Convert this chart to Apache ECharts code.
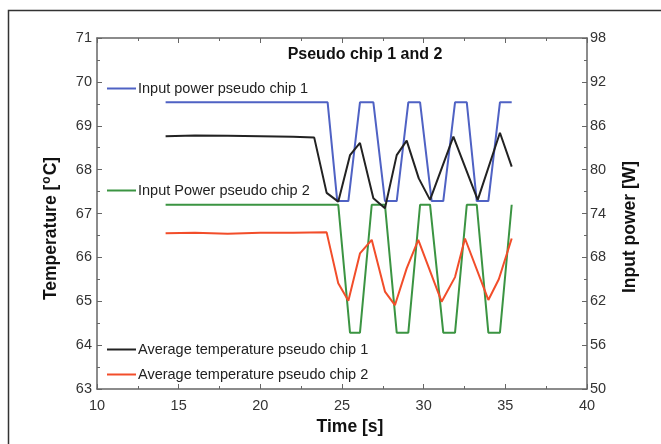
<!DOCTYPE html>
<html>
<head>
<meta charset="utf-8">
<script src="https://cdn.jsdelivr.net/npm/echarts@6/dist/echarts.min.js"></script>
<style>
html, body { margin: 0; padding: 0; background: #fff; }
#chart { width: 661px; height: 444px; }
</style>
</head>
<body>
<div id="chart"></div>
<script>
// region data

// input power pseudo chip 1 (right axis, W)
const power1Time = [14.2, 24.12, 24.71, 25.39, 26.1, 26.92, 27.63, 28.35, 29.06, 29.78, 30.49, 31.2, 31.92, 32.64, 33.25, 33.96, 34.67, 35.39]
const power1Value = [89.2, 89.2, 75.7, 75.7, 89.2, 89.2, 75.7, 75.7, 89.2, 89.2, 75.7, 75.7, 89.2, 89.2, 75.7, 75.7, 89.2, 89.2]

// input power pseudo chip 2 (right axis, W)
const power2Time = [14.2, 24.77, 25.49, 26.1, 26.82, 27.63, 28.35, 29.06, 29.78, 30.39, 31.2, 31.92, 32.64, 33.25, 33.96, 34.67, 35.39]
const power2Value = [75.2, 75.2, 57.7, 57.7, 75.2, 75.2, 57.7, 57.7, 75.2, 75.2, 57.7, 57.7, 75.2, 75.2, 57.7, 57.7, 75.2]

// average temperature pseudo chip 1 (left axis, °C)
const temp1Time = [14.2, 16, 18, 20, 22, 23.3, 24.06, 24.77, 25.49, 26.1, 26.92, 27.63, 28.35, 28.96, 29.7, 30.39, 31.82, 33.31, 34.67, 35.39]
const temp1Value = [68.76, 68.78, 68.77, 68.76, 68.75, 68.73, 67.47, 67.27, 68.33, 68.61, 67.35, 67.12, 68.33, 68.66, 67.8, 67.31, 68.75, 67.31, 68.84, 68.07]

// average temperature pseudo chip 2 (left axis, °C)
const temp2Time = [14.2, 16, 18, 20, 22, 24.06, 24.77, 25.39, 26.1, 26.82, 27.63, 28.24, 28.96, 29.67, 31.1, 31.92, 32.53, 33.96, 34.6, 35.39]
const temp2Value = [66.55, 66.56, 66.54, 66.56, 66.56, 66.57, 65.41, 65.01, 66.09, 66.4, 65.22, 64.91, 65.75, 66.4, 64.99, 65.55, 66.43, 65.03, 65.5, 66.43]

const names = [
  'Input power pseudo chip 1',
  'Input Power pseudo chip 2',
  'Average temperature pseudo chip 1',
  'Average temperature pseudo chip 2'
]

// endregion

// region chart

const FONT = '"Liberation Sans", Arial, sans-serif'

function pairs(t, v) {
  return t.map((x, i) => [x, v[i]])
}

// one legend box per entry, placed like the original annotations
function legendAt(name, top) {
  return {
    data: [name],
    left: 102,
    top: top,
    icon: 'rect',
    itemWidth: 29,
    itemHeight: 2,
    itemGap: 0,
    textStyle: {color: '#222', fontSize: 14.5, fontFamily: FONT, padding: [0, 0, 0, -3]}
  }
}

const tickLabel = {color: '#333', fontSize: 14.5, fontFamily: FONT}
const axisLine = {show: true, lineStyle: {color: '#666', width: 1.5}}
const axisTick = {show: true, inside: true, length: 5, lineStyle: {color: '#666'}}
const minorTick = {show: true, splitNumber: 2, length: 3, lineStyle: {color: '#666'}}

const option = {
  animation: false,
  backgroundColor: '#fff',
  grid: {left: 97, right: 74, top: 38, bottom: 55, containLabel: false},
  title: {
    text: 'Pseudo chip 1 and 2',
    left: 360,
    top: 42,
    textAlign: 'center',
    textStyle: {color: '#111', fontSize: 16, fontWeight: 'bold', fontFamily: FONT}
  },
  legend: [
    legendAt(names[0], 76),
    legendAt(names[1], 178),
    legendAt(names[2], 337),
    legendAt(names[3], 362)
  ],
  xAxis: [
    {
      type: 'value',
      min: 10,
      max: 40,
      interval: 5,
      position: 'bottom',
      name: 'Time [s]',
      nameLocation: 'middle',
      nameGap: 23,
      nameTextStyle: {color: '#111', fontSize: 17.5, fontWeight: 'bold', fontFamily: FONT, padding: [0, 0, 0, 16]},
      axisLine: axisLine,
      axisTick: axisTick,
      minorTick: minorTick,
      axisLabel: Object.assign({margin: 9}, tickLabel),
      splitLine: {show: false}
    },
    {
      type: 'value',
      min: 10,
      max: 40,
      interval: 5,
      position: 'top',
      axisLine: axisLine,
      axisTick: axisTick,
      minorTick: minorTick,
      axisLabel: {show: false},
      splitLine: {show: false}
    }
  ],
  yAxis: [
    {
      type: 'value',
      min: 63,
      max: 71,
      interval: 1,
      position: 'left',
      name: 'Temperature [{sup|o}C]',
      nameLocation: 'middle',
      nameRotate: 90,
      nameGap: 35,
      nameTextStyle: {
        color: '#111', fontSize: 17.5, fontWeight: 'bold', fontFamily: FONT, padding: [0, 30, 0, 0],
        rich: {sup: {fontSize: 12, fontWeight: 'bold', fontFamily: FONT, color: '#111', padding: [0, 1, 9, 1]}}
      },
      axisLine: axisLine,
      axisTick: axisTick,
      minorTick: minorTick,
      axisLabel: Object.assign({margin: 5}, tickLabel),
      splitLine: {show: false}
    },
    {
      type: 'value',
      min: 50,
      max: 98,
      interval: 6,
      position: 'right',
      name: 'Input power [W]',
      nameLocation: 'middle',
      nameRotate: 90,
      nameGap: 34,
      nameTextStyle: {color: '#111', fontSize: 17.5, fontWeight: 'bold', fontFamily: FONT, padding: [0, 27, 0, 0]},
      axisLine: axisLine,
      axisTick: axisTick,
      minorTick: minorTick,
      axisLabel: Object.assign({margin: 3}, tickLabel),
      splitLine: {show: false}
    }
  ],
  series: [
    {
      name: names[0],
      type: 'line',
      yAxisIndex: 1,
      symbol: 'none',
      color: '#4f62c4',
      lineStyle: {width: 2},
      data: pairs(power1Time, power1Value)
    },
    {
      name: names[1],
      type: 'line',
      yAxisIndex: 1,
      symbol: 'none',
      color: '#3b9442',
      lineStyle: {width: 2},
      data: pairs(power2Time, power2Value)
    },
    {
      name: names[2],
      type: 'line',
      yAxisIndex: 0,
      symbol: 'none',
      color: '#222222',
      lineStyle: {width: 2},
      data: pairs(temp1Time, temp1Value)
    },
    {
      name: names[3],
      type: 'line',
      yAxisIndex: 0,
      symbol: 'none',
      color: '#f24d2a',
      lineStyle: {width: 2},
      data: pairs(temp2Time, temp2Value)
    }
  ],
  graphic: [
    {
      type: 'rect',
      shape: {x: 8.5, y: 10.5, width: 700, height: 500},
      style: {fill: 'none', stroke: '#333', lineWidth: 1.5},
      silent: true
    }
  ]
}

const chart = echarts.init(document.getElementById('chart'), null, {renderer: 'canvas'})
chart.setOption(option)

// endregion
</script>
</body>
</html>
